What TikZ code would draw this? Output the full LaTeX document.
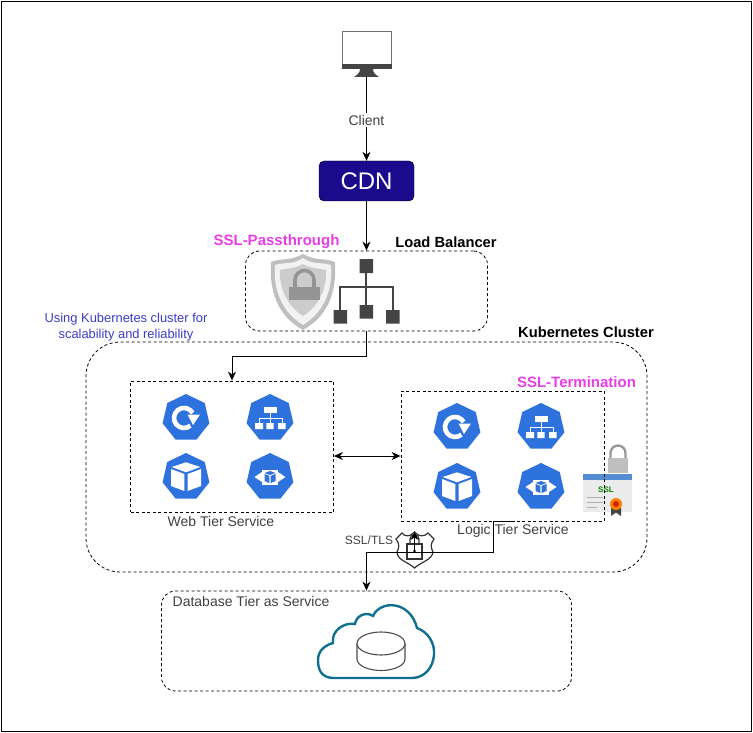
\documentclass[tikz,border=0pt]{standalone}
\usepackage{fontspec}
\setmainfont{Liberation Sans}
\usetikzlibrary{arrows.meta,shapes.geometric}
\definecolor{kubeblue}{HTML}{2E72DE}
\definecolor{cdnblue}{HTML}{1A0A8C}
\definecolor{sslpink}{HTML}{E83EE8}
\definecolor{darkicon}{HTML}{444444}
\definecolor{cloudteal}{HTML}{10708F}
\definecolor{usingblue}{HTML}{3C3CC8}
\tikzset{
	boxdash/.style={draw,line width=0.8pt,dash pattern=on 3pt off 2.5pt,inner sep=0pt},
	roundbox/.style={boxdash,rectangle,rounded corners=14pt},
	link/.style={draw,line width=0.9pt,-{Stealth[length=9pt,width=8pt]}},
	sslhead/.style={text=sslpink,font=\bfseries\fontsize{15}{15}\selectfont},
	plainlabel/.style={font=\fontsize{14}{14}\selectfont,text=black!75},
	boldlabel/.style={font=\bfseries\fontsize{14.7}{15}\selectfont},
	hepta/.pic={
		\fill[kubeblue] (-90:24) -- (-38.6:24) -- (12.9:24) -- (64.3:24) -- (115.7:24) -- (167.1:24) -- (-141.4:24) -- cycle;
	},
	deploy/.pic={
		\pic {hepta};
		\draw[white,line width=4.6pt] (-2,0) ++(50:10) arc (50:330:10);
		\fill[white] (14,-3.5) -- (1.5,-3.5) -- (7,7) -- cycle;
	},
	tree/.pic={
		\pic {hepta};
		\fill[white] (-6.5,-11.5) rectangle (6.5,-5.5);
		\fill[white] (-15,5) rectangle (-7,11) (-3.7,5) rectangle (3.7,11) (8,5) rectangle (15.5,11);
		\draw[white,line width=1pt] (0,-5.5) -- (0,5) (-11,5) -- (-11,0) -- (12,0) -- (12,5);
	},
	cube/.pic={
		\pic {hepta};
		\fill[white] (0,-14.7) -- (14.3,-10) -- (0,-4.7) -- (-14.3,-10) -- cycle;
		\fill[white] (-15,-8) -- (-1.7,-3) -- (-1.7,14) -- (-15,9) -- cycle;
		\fill[white] (15,-8) -- (1.7,-3) -- (1.7,14) -- (15,9) -- cycle;
	},
	podnet/.pic={
		\pic {hepta};
		\fill[white] (-8.3,-7.5) rectangle (8.3,7.5);
		\fill[white] (-15.5,0) -- (-8,-5) -- (-8,5) -- cycle (15.5,0) -- (8,-5) -- (8,5) -- cycle;
		\fill[kubeblue] (0,-6) -- (5.5,-4) -- (0,-2) -- (-5.5,-4) -- cycle;
		\fill[kubeblue] (-5.5,-3) -- (-0.7,-1.2) -- (-0.7,6) -- (-5.5,4) -- cycle;
		\fill[kubeblue] (5.5,-3) -- (0.7,-1.2) -- (0.7,6) -- (5.5,4) -- cycle;
	},
}
\begin{document}
\begin{tikzpicture}[x=1pt,y=-1pt]
	\useasboundingbox (0,0) rectangle (753,733);
	\draw[line width=0.9pt] (1,1) rectangle (751,731);

	% client and cdn
	\draw[black!55,line width=1pt,fill=white] (342,32) rectangle (391,65);
	\fill[darkicon] (341.5,64) rectangle (391.5,69.5);
	\fill[darkicon] (360,69) -- (373,69) .. controls (373,73) and (376,75) .. (379,77) -- (354,77) .. controls (357,75) and (360,73) .. (360,69) -- cycle;
	\coordinate (client) at (366.5,77);
	\node[plainlabel,fill=white,inner sep=2pt] (clientlabel) at (366.5,120) {Client};
	\node[draw=black,fill=cdnblue,rounded corners=5pt,minimum width=95pt,minimum height=40pt,inner sep=0pt,text=white,font=\fontsize{24}{24}\selectfont] (cdn) at (366.5,181) {CDN};

	% load balancer
	\node[roundbox,minimum width=242pt,minimum height=80pt] (lb) at (366.5,291) {};
	\node[sslhead] (passlabel) at (276.5,242) {SSL-Passthrough};
	\node[boldlabel] (lblabel) at (446,242) {Load Balancer};
	\fill[black!25] (303,254) .. controls (315,261) and (325,258) .. (335,262) .. controls (337,292) and (328,316) .. (303,330) .. controls (278,316) and (269,292) .. (271,262) .. controls (281,258) and (291,261) .. (303,254) -- cycle;
	\fill[black!5] (303,258) .. controls (313,265) and (322,262) .. (331,265) .. controls (333,290) and (324,312) .. (303,325) .. controls (282,312) and (273,290) .. (275,265) .. controls (284,262) and (293,265) .. (303,258) -- cycle;
	\fill[black!20] (303,264) .. controls (311,269) and (319,268) .. (326,270) .. controls (327,288) and (319,306) .. (303,316) .. controls (287,306) and (279,288) .. (280,270) .. controls (287,268) and (295,269) .. (303,264) -- cycle;
	\fill[black!42] (289,287) rectangle (320,300);
	\draw[black!42,line width=3.6pt] (295,287) -- (295,280) arc (180:360:9.5) -- (314,287);
	\draw[darkicon,line width=2pt] (366,266) -- (366,312) (340,316) -- (340,286.5) -- (393,286.5) -- (393,316);
	\fill[darkicon] (359.5,259) rectangle (373,273) (333.5,310) rectangle (347,323.5) (359.5,305) rectangle (373,318.5) (386,310) rectangle (399.5,323.5);

	% kubernetes cluster
	\node[align=center,text=usingblue,font=\fontsize{12.9}{16}\selectfont] (scalelabel) at (126,327) {Using Kubernetes cluster for\\scalability and reliability};
	\node[roundbox,rounded corners=34pt,minimum width=561pt,minimum height=230pt] (cluster) at (366.5,457) {};
	\node[boldlabel] (clusterlabel) at (586,332) {Kubernetes Cluster};

	% web tier
	\node[boxdash,rectangle,minimum width=203pt,minimum height=131pt] (web) at (232,446.5) {};
	\node[plainlabel] (weblabel) at (221,521) {Web Tier Service};
	\pic at (186,418) {deploy};
	\pic at (270,418) {tree};
	\pic at (186,477) {cube};
	\pic at (270,477) {podnet};

	% certificate
	\draw[black!40,line width=2.4pt] (610.5,460) -- (610.5,453) arc (180:360:7.5) -- (625.5,460);
	\fill[black!25] (608,458) rectangle (628,473);
	\fill[black!8,rounded corners=1.5pt] (583,474) rectangle (632,512);
	\fill[cyan!50!blue!70!white] (583,474) rectangle (632,480);
	\node[text=green!55!black,font=\bfseries\fontsize{8}{8}\selectfont,inner sep=0pt] (ssltext) at (606,490) {SSL};
	\draw[black!30,line width=0.8pt] (587,497) -- (603,497) (587,502) -- (603,502) (587,507) -- (597,507);
	\fill[darkicon] (611,508) -- (611,516) -- (616,512.5) -- (621,516) -- (621,508) -- cycle;
	\fill[orange] (616,504) circle (6);
	\fill[red!70!black!70!orange] (616,504) circle (3);

	% logic tier
	\node[boxdash,rectangle,minimum width=203pt,minimum height=130pt] (logic) at (502.5,456) {};
	\node[sslhead] (termlabel) at (576.5,382) {SSL-Termination};
	\node[plainlabel] (logiclabel) at (513,531) {Logic Tier Service};
	\pic at (457,427) {deploy};
	\pic at (541,427) {tree};
	\pic at (457,487) {cube};
	\pic at (541,487) {podnet};
	\coordinate (logicout) at (515,521);

	% database
	\node[roundbox,minimum width=410pt,minimum height=100pt] (db) at (366.5,641) {};
	\node[plainlabel] (dblabel) at (251,601) {Database Tier as Service};
	\draw[cloudteal,line width=2.4pt] (334,678) .. controls (320,678) and (318,668) .. (318,660) .. controls (318,650) and (326,645) .. (333,643) .. controls (331,630) and (345,622) .. (355,624) .. controls (356,616) and (366,611) .. (373,616) .. controls (380,600) and (410,600) .. (417,628) .. controls (428,632) and (435,643) .. (434,655) .. controls (433,668) and (424,678) .. (412,678) -- cycle;
	\draw[black!70,line width=1.1pt] (357,644) -- (357,659) arc (180:0:24 and 11.5) -- (405,644);
	\draw[black!70,line width=1.1pt] (381,643.5) ellipse (24 and 11.5);

	% ssl/tls shield
	\node[plainlabel,font=\fontsize{12}{12}\selectfont] (tlslabel) at (369,540) {SSL/TLS};
	\draw[black!80,line width=1.2pt,fill=white] (414.5,532) .. controls (410,537) and (405,537) .. (402,533) -- (396,539) .. controls (400,544) and (399,548) .. (397,552) .. controls (397,560) and (408,562) .. (414.5,568) .. controls (421,562) and (432,560) .. (433,552) .. controls (431,548) and (430,544) .. (434,539) -- (428,533) .. controls (424,537) and (419,537) .. (414.5,532) -- cycle;
	\draw[black!80,line width=1.2pt] (407,544) rectangle (422,559);
	\draw[black!80,line width=1.2pt] (410,544) -- (410,539) arc (180:360:4.5) -- (419,544);
	\fill[black!80] (414.5,551) circle (1.6);
	\coordinate (tlsfoot) at (414.5,552);
	\coordinate (tlstip) at (414.5,532);

	% links
	\draw[line width=0.9pt] (client) -- (clientlabel);
	\draw[link] (clientlabel) -- (cdn);
	\draw[link] (cdn) -- (lb);
	\draw[link] (lb.south) -- ++(0,25) -| (web.north);
	\draw[line width=0.9pt,{Stealth[length=9pt,width=8pt]}-{Stealth[length=9pt,width=8pt]}] (web.east |- logic.west) -- (logic.west);
	\draw[link] (logicout) -- (493,521) -- (493,552) -- (366.5,552) -- (db.north);
	\draw[line width=0.9pt,-{Stealth[length=8pt,width=8pt]}] (tlsfoot) -- (tlstip);
\end{tikzpicture}
\end{document}
